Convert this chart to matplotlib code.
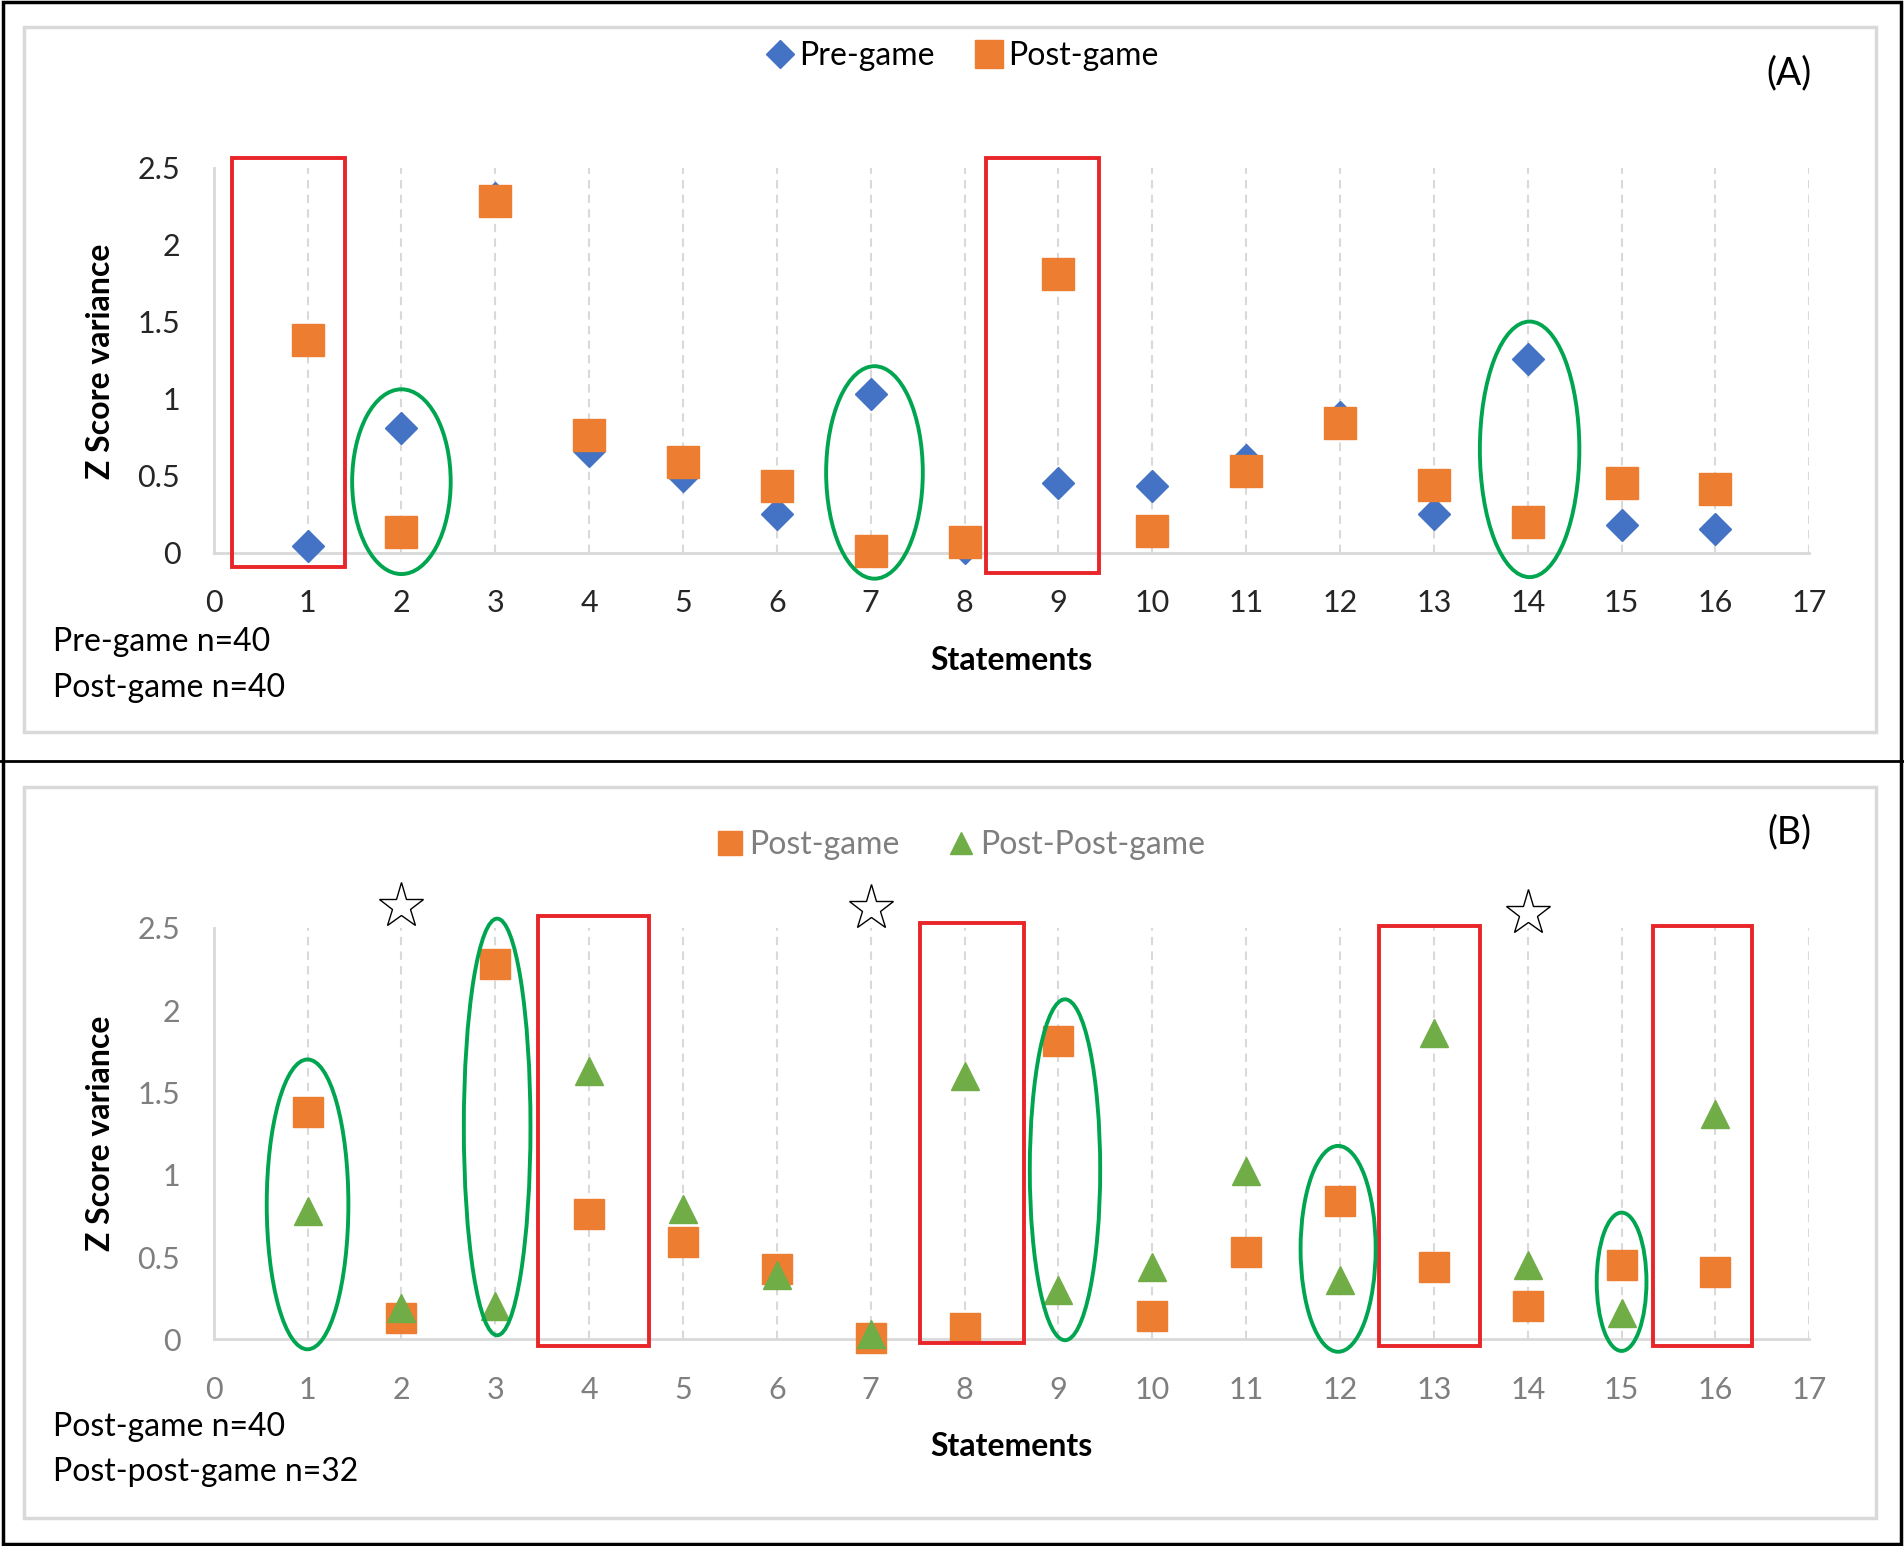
import matplotlib
matplotlib.use("Agg")
import matplotlib.pyplot as plt
from matplotlib.patches import Rectangle, Ellipse
from matplotlib.lines import Line2D

plt.rcParams["font.family"] = ["Lato", "DejaVu Sans"]

statements = list(range(1, 17))
pre_game = [0.04, 0.81, 2.30, 0.66, 0.50, 0.25, 1.03, 0.03,
            0.45, 0.43, 0.60, 0.88, 0.25, 1.26, 0.18, 0.15]
post_game = [1.38, 0.13, 2.28, 0.76, 0.59, 0.43, 0.01, 0.07,
             1.81, 0.14, 0.53, 0.84, 0.44, 0.20, 0.45, 0.41]
post_post_game = [0.78, 0.19, 0.20, 1.63, 0.79, 0.39, 0.03, 1.60,
                  0.30, 0.44, 1.02, 0.36, 1.86, 0.45, 0.16, 1.37]

# highlighted statements: (x_left, x_right, y_bottom, y_top)
boxes_a = [(0.19, 1.40, -0.095, 2.56), (8.23, 9.43, -0.13, 2.56)]
boxes_b = [(3.45, 4.64, -0.04, 2.57), (7.53, 8.63, -0.02, 2.53),
           (12.42, 13.49, -0.04, 2.51), (15.33, 16.39, -0.04, 2.51)]
# (x_center, y_center, width, height)
rings_a = [(2.0, 0.46, 1.05, 1.20), (7.04, 0.52, 1.03, 1.38), (14.02, 0.67, 1.06, 1.66)]
rings_b = [(1.0, 0.82, 0.87, 1.76), (3.02, 1.29, 0.71, 2.53), (9.07, 1.03, 0.75, 2.07),
           (11.98, 0.55, 0.80, 1.25), (15.0, 0.35, 0.53, 0.84)]
star_x = [2, 7, 14]
star_y = [2.63, 2.62, 2.59]

BLUE = "#4472C4"
ORANGE = "#ED7D31"
GREEN = "#70AD47"
RED = "#E8262A"
RING = "#00A550"
LIGHT = "#D9D9D9"

fig = plt.figure(figsize=(19.04, 15.46), dpi=100)
W, H = 1904, 1546


def style_axes(ax, tick_color):
    ax.set_xlim(0, 17)
    ax.set_ylim(0, 2.5)
    ax.set_xticks(range(0, 18))
    ax.set_yticks([0, 0.5, 1, 1.5, 2, 2.5])
    ax.set_yticklabels(["0", "0.5", "1", "1.5", "2", "2.5"])
    for side in ("top", "right"):
        ax.spines[side].set_visible(False)
    for side in ("left", "bottom"):
        ax.spines[side].set_color(LIGHT)
        ax.spines[side].set_linewidth(2)
    ax.tick_params(length=0, labelsize=22, labelcolor=tick_color)
    ax.tick_params(axis="x", pad=26)
    ax.tick_params(axis="y", pad=24)
    for x in range(1, 18):
        ax.axvline(x, color=LIGHT, lw=1.5, ls=(0, (4, 3)), zorder=0)
    ax.patch.set_alpha(0)


def draw_notes(ax, boxes, rings):
    for x0, x1, y0, y1 in boxes:
        ax.add_patch(Rectangle((x0, y0), x1 - x0, y1 - y0, fill=False,
                               edgecolor=RED, lw=2.8, clip_on=False, zorder=5))
    for xc, yc, w, h in rings:
        ax.add_patch(Ellipse((xc, yc), w, h, fill=False,
                             edgecolor=RING, lw=2.8, clip_on=False, zorder=5))


# panel frames
fig.add_artist(Rectangle((0.0015, 0.001), 0.997, 0.998, transform=fig.transFigure,
                         fill=False, edgecolor="black", lw=2.5))
fig.add_artist(Line2D([0, 1], [1 - 761 / H, 1 - 761 / H], transform=fig.transFigure,
                      color="black", lw=2))
fig.add_artist(Rectangle((24 / W, 1 - 732 / H), 1852 / W, 705 / H,
                         transform=fig.transFigure, fill=False, edgecolor=LIGHT, lw=2.5))
fig.add_artist(Rectangle((24 / W, 1 - 1518 / H), 1852 / W, 731 / H,
                         transform=fig.transFigure, fill=False, edgecolor=LIGHT, lw=2.5))

left = 213.7 / W
width = (1809.3 - 213.7) / W

# ---- panel A
ax_a = fig.add_axes([left, 1 - 552.5 / H, width, (552.5 - 167.6) / H])
style_axes(ax_a, "#262626")
pre_line, = ax_a.plot(statements, pre_game, ls="none", marker="D", ms=16.5, color=BLUE,
                      clip_on=False, zorder=3, label="Pre-game")
post_line, = ax_a.plot(statements, post_game, ls="none", marker="s", ms=23, color=ORANGE,
                       clip_on=False, zorder=4, label="Post-game")
draw_notes(ax_a, boxes_a, rings_a)
fig.legend(handles=[pre_line, post_line], loc="center", bbox_to_anchor=(0.505, 1 - 56 / H),
           ncol=2, frameon=False, fontsize=23, handletextpad=0.1,
           columnspacing=1.2, markerscale=0.85, handlelength=1.0)

fig.text(1011 / W, 1 - 661 / H, "Statements", ha="center", va="center",
         fontsize=23, fontweight="bold")
fig.text(101 / W, 1 - 361 / H, "Z Score variance", ha="center", va="center",
         rotation=90, fontsize=23, fontweight="bold")
fig.text(53 / W, 1 - 642 / H, "Pre-game n=40", ha="left", va="center", fontsize=23)
fig.text(53 / W, 1 - 688 / H, "Post-game n=40", ha="left", va="center", fontsize=23)
fig.text(1789 / W, 1 - 73 / H, "(A)", ha="center", va="center", fontsize=27)

# ---- panel B
ax_b = fig.add_axes([left, 1 - 1339.4 / H, width, (1339.4 - 927.7) / H])
style_axes(ax_b, "#7F7F7F")
post_line_b, = ax_b.plot(statements, post_game, ls="none", marker="s", ms=21, color=ORANGE,
                         clip_on=False, zorder=3, label="Post-game")
pp_line, = ax_b.plot(statements, post_post_game, ls="none", marker="^", ms=20, color=GREEN,
                     clip_on=False, zorder=4, label="Post-Post-game")
ax_b.plot(star_x, star_y, ls="none", marker="*", ms=34, markerfacecolor="white",
          markeredgecolor="black", markeredgewidth=1.0, clip_on=False, zorder=6)
draw_notes(ax_b, boxes_b, rings_b)
fig.legend(handles=[post_line_b, pp_line], loc="center",
           bbox_to_anchor=(0.504, 1 - 845 / H), ncol=2, frameon=False,
           fontsize=23, handletextpad=0.1, columnspacing=1.4,
           markerscale=0.8, handlelength=1.0, labelcolor="#7F7F7F")

fig.text(1011 / W, 1 - 1447 / H, "Statements", ha="center", va="center",
         fontsize=23, fontweight="bold")
fig.text(101 / W, 1 - 1133 / H, "Z Score variance", ha="center", va="center",
         rotation=90, fontsize=23, fontweight="bold")
fig.text(53 / W, 1 - 1427 / H, "Post-game n=40", ha="left", va="center", fontsize=23)
fig.text(53 / W, 1 - 1472 / H, "Post-post-game n=32", ha="left", va="center", fontsize=23)
fig.text(1789 / W, 1 - 832 / H, "(B)", ha="center", va="center", fontsize=27)

fig.savefig("out.png", dpi=100)
